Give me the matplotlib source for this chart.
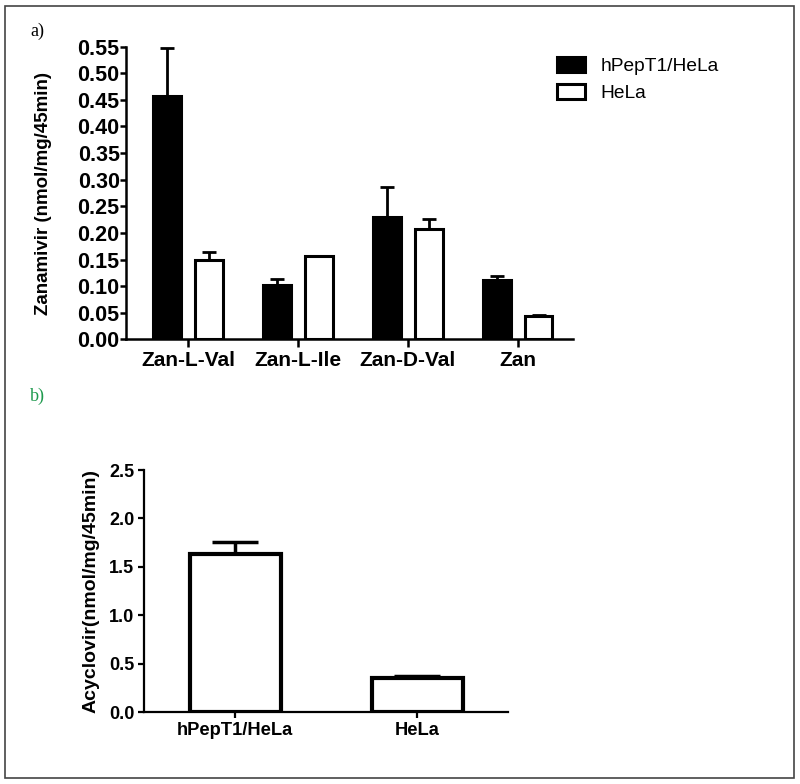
import numpy as np
import matplotlib.pyplot as plt
from matplotlib.patches import Rectangle

# panel a) data
prodrugs = ['Zan-L-Val', 'Zan-L-Ile', 'Zan-D-Val', 'Zan']
pept_vals = [0.457, 0.102, 0.230, 0.111]
pept_err = [0.091, 0.011, 0.056, 0.008]
hela_vals = [0.149, 0.157, 0.208, 0.044]
hela_err = [0.016, 0.0, 0.018, 0.002]
series_names = ['hPepT1/HeLa', 'HeLa']

# panel b) data
cell_lines = ['hPepT1/HeLa', 'HeLa']
acv_vals = [1.63, 0.35]
acv_err = [0.13, 0.025]

fig = plt.figure(figsize=(8.0, 7.84), dpi=100)
bold = dict(family='Liberation Sans', weight='bold')

# ---- panel a ----
ax1 = fig.add_axes([0.1575, 0.567, 0.5585, 0.3736])
x = np.arange(len(prodrugs))
w = 0.25
off = 0.19
ax1.bar(x - off, pept_vals, w, color='black', edgecolor='black', linewidth=2.2,
        label=series_names[0], zorder=2)
ax1.bar(x + off, hela_vals, w, color='white', edgecolor='black', linewidth=2.2,
        label=series_names[1], zorder=2)
ax1.errorbar(x - off, pept_vals, yerr=[np.zeros(4), pept_err], fmt='none',
             ecolor='black', elinewidth=2, capsize=4.7, capthick=2, zorder=1)
ax1.errorbar(x + off, hela_vals, yerr=[np.zeros(4), hela_err], fmt='none',
             ecolor='black', elinewidth=2, capsize=4.7, capthick=2, zorder=1)
ax1.set_xlim(-0.564, 3.5)
ax1.set_ylim(0, 0.55)
ax1.set_yticks(np.arange(0, 0.551, 0.05))
ax1.set_yticklabels(['%.2f' % v for v in np.arange(0, 0.551, 0.05)], fontsize=15.5, **bold)
ax1.set_xticks(x)
ax1.set_xticklabels(prodrugs, fontsize=15, **bold)
ax1.set_ylabel('Zanamivir (nmol/mg/45min)', fontsize=13.5, **bold)
ax1.yaxis.set_label_coords(-0.1655, 0.5)
for s in ['top', 'right']:
    ax1.spines[s].set_visible(False)
for s in ['left', 'bottom']:
    ax1.spines[s].set_linewidth(1.8)
ax1.tick_params(axis='y', width=1.8, length=4, pad=0.5)
ax1.tick_params(axis='x', width=1.8, length=6, pad=2)
leg = ax1.legend(loc='upper left', bbox_to_anchor=(0.964, 0.965), frameon=False,
                 prop=dict(family='Liberation Sans', size=13.8),
                 borderaxespad=0, borderpad=0,
                 handlelength=1.5, handleheight=0.83, handletextpad=0.78,
                 labelspacing=0.45)

# ---- panel b ----
ax2 = fig.add_axes([0.18, 0.0918, 0.455, 0.3087])
xb = np.arange(len(cell_lines))
ax2.bar(xb, acv_vals, 0.5, color='white', edgecolor='black', linewidth=3, zorder=2)
ax2.errorbar(xb, acv_vals, yerr=[np.zeros(2), acv_err], fmt='none',
             ecolor='black', elinewidth=2.5, capsize=16.5, capthick=2.5, zorder=1)
ax2.set_xlim(-0.5, 1.5)
ax2.set_ylim(0, 2.5)
ax2.set_yticks(np.arange(0, 2.51, 0.5))
ax2.set_yticklabels(['%.1f' % v for v in np.arange(0, 2.51, 0.5)], fontsize=13, **bold)
ax2.set_xticks(xb)
ax2.set_xticklabels(cell_lines, fontsize=13.2, **bold)
ax2.set_ylabel('Acyclovir(nmol/mg/45min)', fontsize=14, **bold)
ax2.yaxis.set_label_coords(-0.121, 0.5)
for s in ['top', 'right']:
    ax2.spines[s].set_visible(False)
for s in ['left', 'bottom']:
    ax2.spines[s].set_linewidth(1.6)
ax2.tick_params(width=1.6, length=4.5, pad=2.5)

# panel letters
fig.text(30 / 800, 1 - 31 / 784, 'a)', family='Liberation Serif', fontsize=13,
         va='center', ha='left', color='black')
fig.text(30 / 800, 1 - 396 / 784, 'b)', family='Liberation Serif', fontsize=13,
         va='center', ha='left', color='#1f9a4e')

# outer frame
fig.patches.append(Rectangle((5 / 800, 6 / 784), 789 / 800, 772 / 784,
                             transform=fig.transFigure, fill=False,
                             edgecolor='#444444', linewidth=1.2))

fig.savefig('out.png', dpi=100)
